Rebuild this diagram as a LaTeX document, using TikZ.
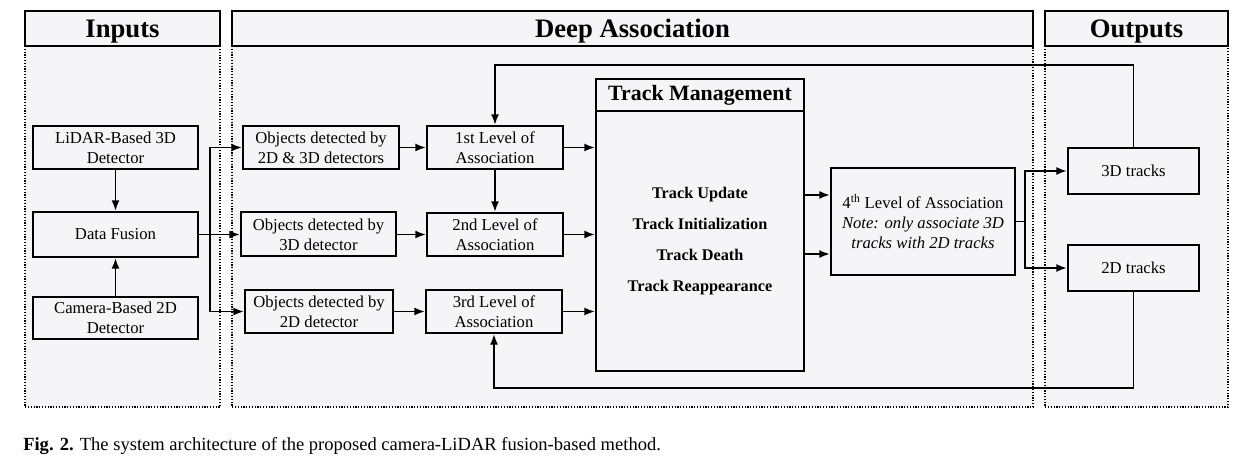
\documentclass[tikz,border=0pt]{standalone}
\usepackage{fontspec}
\setmainfont{Liberation Serif}
\usetikzlibrary{arrows.meta}
\definecolor{panelfill}{RGB}{245,245,248}
\tikzset{
  sz/.style 2 args={minimum width=#1*0.75pt, minimum height=#2*0.75pt},
  blk/.style={draw, line width=1.5pt, align=center, inner sep=0pt, font=\fontsize{12.5}{15}\selectfont},
  hdr/.style={draw, line width=1.9pt, fill=panelfill, inner sep=0pt, text depth=0pt, font=\fontsize{20}{24}\selectfont\bfseries},
  panel/.style={fill=panelfill, line width=0.9pt, dash pattern={on 0.9pt off 1.2pt}},
  arr/.style={line width=1.4pt, -{Latex[length=8pt,width=6pt]}},
}

\begin{document}
\begin{tikzpicture}[x=0.75pt,y=0.75pt,yscale=-1,xscale=1]
\useasboundingbox (0,0) rectangle (1252,463);

\draw [panel] (25,46) rectangle (220,407);
\draw [panel] (232,46) rectangle (1033,407);
\draw [panel] (1045,46) rectangle (1228,407);
\node [hdr, sz={195}{35}] (hin) at (122.5,28.5) {Inputs};
\node [hdr, sz={801}{35}] (hda) at (632.5,28.5) {Deep Association};
\node [hdr, sz={183}{35}] (hout) at (1136.5,28.5) {Outputs};

\node [blk, sz={165}{43}] (lidar) at (115.5,147.5) {LiDAR-Based 3D\\Detector};
\node [blk, sz={165}{45}] (fusion) at (115.5,234.5) {Data Fusion};
\node [blk, sz={165}{42}] (camera) at (115.5,318) {Camera-Based 2D\\Detector};

\node [blk, sz={156}{43}] (obj1) at (321,147.5) {Objects detected by\\2D \& 3D detectors};
\node [blk, sz={155}{44}] (obj2) at (318.5,234.5) {Objects detected by\\3D detector};
\node [blk, sz={148}{43}] (obj3) at (319,311.5) {Objects detected by\\2D detector};

\node [blk, sz={136}{43}] (lvl1) at (495,147.5) {1st Level of\\Association};
\node [blk, sz={136}{43}] (lvl2) at (495,234.5) {2nd Level of\\Association};
\node [blk, sz={136}{43}] (lvl3) at (494,311.5) {3rd Level of\\Association};

\node [blk, sz={208}{32}, font=\fontsize{16.4}{20}\selectfont\bfseries] (tmhead) at (700,95) {Track Management};
\node [blk, sz={208}{260}, font=\fontsize{12.2}{23.25}\selectfont\bfseries] (tmbody) at (700,241) {Track Update\\Track Initialization\\Track Death\\Track Reappearance};

\node [blk, sz={184}{107}] (lvl4) at (923,221.5) {4\textsuperscript{th} Level of Association\\\textit{Note: only associate 3D}\\\textit{tracks with 2D tracks}};

\node [blk, sz={131}{46}] (t3d) at (1133.5,171) {3D tracks};
\node [blk, sz={131}{46}] (t2d) at (1133.5,268) {2D tracks};

\node [anchor=west, inner sep=0pt, font=\fontsize{13.9}{16}\selectfont] (cap) at (23,446) {\textbf{Fig. 2.} The system architecture of the proposed camera-LiDAR fusion-based method.};

\coordinate (q1) at ([yshift=24.4pt]lvl4.west);
\coordinate (q2) at ([yshift=-19.9pt]lvl4.west);
\coordinate (topret) at (0,65);
\coordinate (botret) at (0,388);

\draw [arr] (lidar) -- (fusion);
\draw [arr] (camera) -- (fusion);

\draw [arr] (fusion.east) -- ++(11,0) |- (obj1.west);
\draw [arr] (fusion.east) -- (fusion.east -| obj2.west);
\draw [arr] (fusion.east) -- ++(11,0) |- (obj3.west);

\draw [arr] (obj1) -- (lvl1);
\draw [arr] (obj2.east) -- (obj2.east -| lvl2.west);
\draw [arr] (obj3) -- (lvl3);
\draw [arr] (lvl1) -- (lvl2);

\draw [arr] (lvl1.east) -- (lvl1.east -| tmbody.west);
\draw [arr] (lvl2.east) -- (lvl2.east -| tmbody.west);
\draw [arr] (lvl3.east) -- (lvl3.east -| tmbody.west);

\draw [arr] (q1 -| tmbody.east) -- (q1);
\draw [arr] (q2 -| tmbody.east) -- (q2);

\draw [arr] (lvl4.east) -- ++(9,0) |- (t3d.west);
\draw [arr] (lvl4.east) -- ++(9,0) |- (t2d.west);

\draw [arr] (t3d.north) -- (t3d.north |- topret) -| (lvl1.north);
\draw [arr] (t2d.south) -- (t2d.south |- botret) -| (lvl3.south);

\end{tikzpicture}
\end{document}
